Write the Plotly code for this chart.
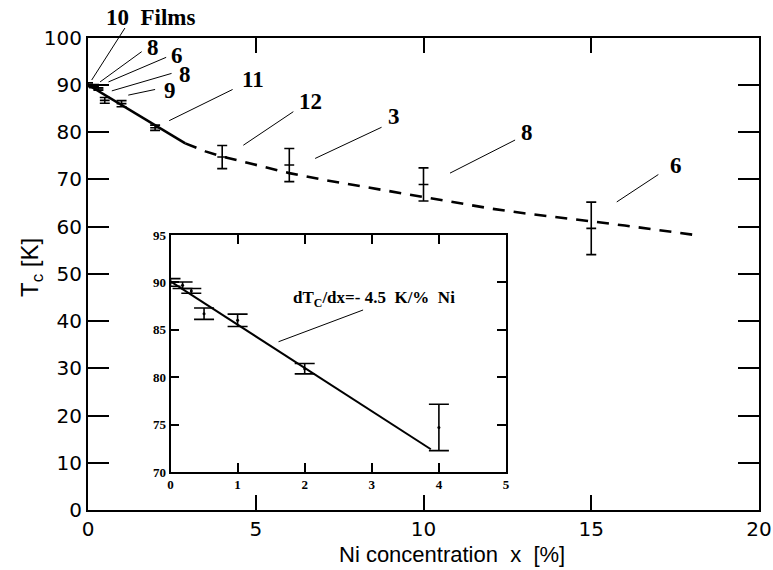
import plotly.graph_objects as go

# ---- data ----
ni_x = [0.0, 0.18, 0.31, 0.5, 1.0, 2.0, 4.0, 6.0, 10.0, 15.0]
tc_y = [90.0, 89.7, 89.1, 86.7, 86.0, 80.9, 74.7, 73.0, 68.9, 59.6]
tc_err = [0.4, 0.35, 0.25, 0.6, 0.65, 0.55, 2.45, 3.5, 3.5, 5.55]

inset_n = 7  # points shown in the inset (x <= 4)

solid_x = [0.0, 2.9]
solid_y = [90.0, 77.6]
dash_x = [2.9, 3.5, 4, 5, 6, 7, 8, 9, 10, 11, 12, 13, 14, 15, 16, 17, 18.2]
dash_y = [77.6, 75.9, 74.8, 73.0, 71.3, 69.9, 68.7, 67.4, 66.2, 65.0, 63.8,
          62.8, 62.0, 61.1, 60.2, 59.3, 58.1]

fit_x = [0.0, 3.88]
fit_y = [90.1, 72.4]

x_range = [0, 20]
y_range = [0, 100]

# sample-count labels: text, text x, text y, line head x/y, line tail x/y
count_labels = [
    ("8", 1.95, 97.9, 0.36, 90.6, 1.60, 97.0),
    ("6", 2.65, 96.1, 0.61, 90.6, 2.33, 95.8),
    ("8", 2.88, 92.1, 0.71, 88.7, 2.49, 92.4),
    ("9", 2.44, 88.7, 1.20, 87.8, 2.00, 89.0),
    ("11", 4.93, 91.2, 2.42, 82.4, 4.31, 89.0),
    ("12", 6.64, 86.4, 4.63, 77.2, 6.12, 84.3),
    ("3", 9.13, 83.2, 6.77, 74.4, 8.75, 81.0),
    ("8", 13.07, 79.9, 10.79, 71.3, 12.73, 78.3),
    ("6", 17.52, 73.0, 15.76, 65.2, 17.00, 71.0),
]
films_label = ("10\u00a0\u00a0Films", 1.85, 104.2, 0.11, 91.0, 1.10, 102.0)

fig = go.Figure()

# main curve
fig.add_trace(go.Scatter(x=solid_x, y=solid_y, mode="lines",
                         line=dict(color="black", width=2.6),
                         xaxis="x", yaxis="y", showlegend=False))
fig.add_trace(go.Scatter(x=dash_x, y=dash_y, mode="lines",
                         line=dict(color="black", width=2.6, dash="12px,9px"),
                         xaxis="x", yaxis="y", showlegend=False))
# main data
fig.add_trace(go.Scatter(x=ni_x, y=tc_y, mode="markers",
                         marker=dict(symbol="line-ew-open", size=7,
                                     color="black",
                                     line=dict(color="black", width=1.6)),
                         error_y=dict(type="data", array=tc_err, visible=True,
                                      color="black", thickness=1.6, width=5),
                         xaxis="x", yaxis="y", showlegend=False))

# inset
fig.add_trace(go.Scatter(x=fit_x, y=fit_y, mode="lines",
                         line=dict(color="black", width=2),
                         xaxis="x2", yaxis="y2", showlegend=False))
fig.add_trace(go.Scatter(x=ni_x[:inset_n], y=tc_y[:inset_n], mode="markers",
                         marker=dict(symbol="circle", size=3, color="black"),
                         error_y=dict(type="data", array=tc_err[:inset_n],
                                      visible=True, color="black",
                                      thickness=1.6, width=10),
                         xaxis="x2", yaxis="y2", showlegend=False))


def ydom(v):
    return (v - y_range[0]) / (y_range[1] - y_range[0])


annots = []
shapes = []
lab_font = dict(family="Liberation Serif", size=23, color="black")
for txt, tx, ty, hx, hy, lx, ly in count_labels:
    annots.append(dict(text="<b>%s</b>" % txt, x=tx, y=ty, xref="x", yref="y",
                       xanchor="center", yanchor="middle",
                       showarrow=False, font=lab_font))
    shapes.append(dict(type="line", xref="x", yref="y", x0=hx, y0=hy,
                       x1=lx, y1=ly, line=dict(color="black", width=1)))

ft, ftx, fty, fhx, fhy, flx, fly = films_label
annots.append(dict(text="<b>%s</b>" % ft, x=ftx, y=ydom(fty),
                   xref="x", yref="y domain", xanchor="center",
                   yanchor="middle", showarrow=False, font=lab_font))
shapes.append(dict(type="line", xref="x", yref="y domain", x0=fhx,
                   y0=ydom(fhy), x1=flx, y1=ydom(fly),
                   line=dict(color="black", width=1)))

# inset slope annotation
annots.append(dict(text="<b>dT<sub>C</sub>/dx=-\u00a04.5\u00a0\u00a0K/%\u00a0\u00a0Ni</b>",
                   x=3.03, y=88.25, xref="x2", yref="y2", showarrow=False,
                   xanchor="center", yanchor="middle",
                   font=dict(family="Liberation Serif", size=17, color="black")))
shapes.append(dict(type="line", xref="x2", yref="y2", x0=1.61, y0=83.74,
                   x1=2.87, y1=87.09, line=dict(color="black", width=1)))

# axis titles
sans = "DejaVu Sans"
annots.append(dict(text="Ni concentration\u00a0\u00a0x\u00a0\u00a0[%]",
                   x=451.5 / 773, y=1 - 554 / 570, xref="paper",
                   yref="paper", xanchor="center", yanchor="middle",
                   showarrow=False,
                   font=dict(family="Liberation Sans", size=22,
                             color="black")))
annots.append(dict(text="T<sub>c</sub> [K]", x=31 / 773, y=1 - 268 / 570,
                   xref="paper", yref="paper", xanchor="center",
                   yanchor="middle", textangle=-90, showarrow=False,
                   font=dict(family="Liberation Sans", size=24,
                             color="black")))

fig.update_layout(
    width=773, height=570,
    margin=dict(l=0, r=0, t=0, b=0, autoexpand=False),
    paper_bgcolor="white", plot_bgcolor="white",
    showlegend=False,
    annotations=annots,
    shapes=shapes,
    xaxis=dict(domain=[88 / 773, 759 / 773], range=x_range, dtick=5,
               tick0=0, showgrid=False, zeroline=False, showline=True,
               linecolor="black", linewidth=2, mirror="ticks",
               ticks="inside", ticklen=15, tickwidth=2, tickcolor="black",
               automargin=False,
               tickfont=dict(family=sans, size=20, color="black")),
    yaxis=dict(domain=[1 - 510 / 570, 1 - 37.5 / 570], range=y_range,
               dtick=10, tick0=0, showgrid=False, zeroline=False,
               showline=True, linecolor="black", linewidth=2, mirror="ticks",
               ticks="inside", ticklen=21, tickwidth=2, tickcolor="black",
               automargin=False,
               tickfont=dict(family=sans, size=20, color="black")),
    xaxis2=dict(domain=[170.5 / 773, 506 / 773], range=[0, 5], dtick=1,
                tick0=0, anchor="y2", showgrid=False, zeroline=False,
                showline=True, linecolor="black", linewidth=1.6,
                mirror="ticks", ticks="inside", ticklen=9, tickwidth=1.5,
                tickcolor="black", automargin=False,
                tickfont=dict(family="Liberation Serif", size=13,
                              color="black", weight="bold")),
    yaxis2=dict(domain=[1 - 472 / 570, 1 - 235 / 570], range=[70, 95],
                dtick=5, tick0=70, anchor="x2", showgrid=False,
                zeroline=False, showline=True, linecolor="black",
                linewidth=1.6, mirror="ticks", ticks="inside", ticklen=9,
                tickwidth=1.5, tickcolor="black", automargin=False,
                tickfont=dict(family="Liberation Serif", size=13,
                              color="black", weight="bold")),
)

fig.write_html("out.html")
